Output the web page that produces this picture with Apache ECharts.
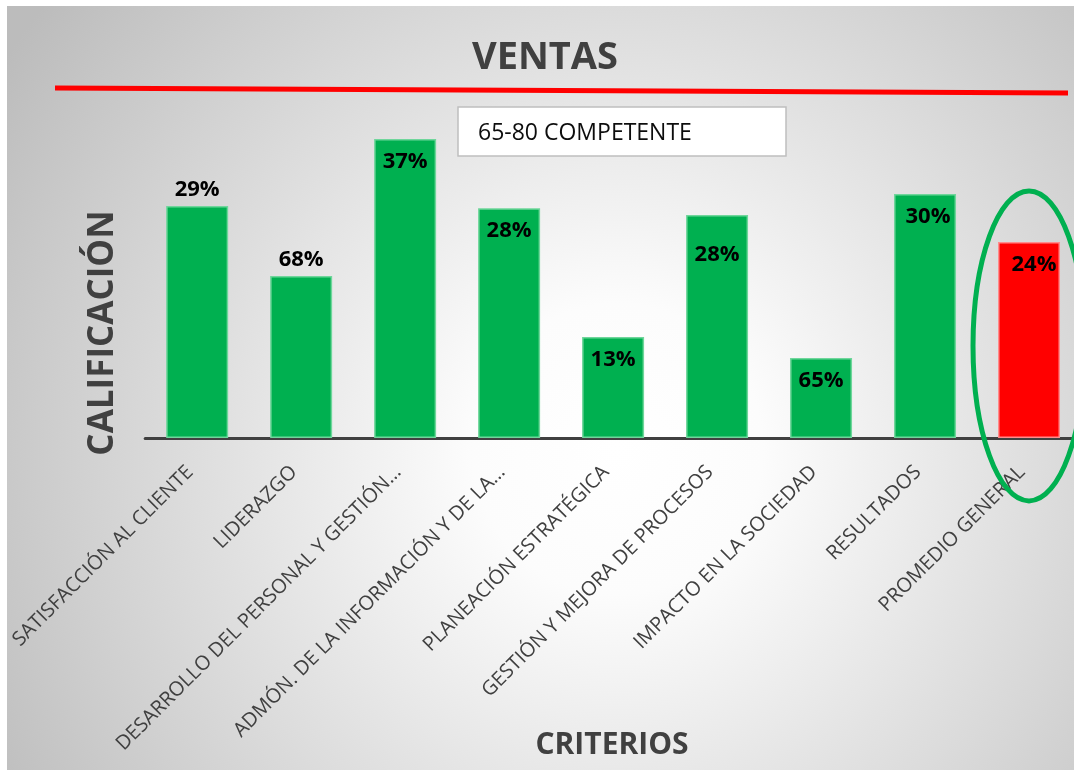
<!DOCTYPE html>
<html>
<head>
<meta charset="utf-8">
<title>Ventas</title>
<script src="https://cdn.jsdelivr.net/npm/echarts@6/dist/echarts.min.js"></script>
<style>
    html, body { margin: 0; padding: 0; background: #fff; }
    #frame { position: absolute; left: 7px; top: 6px; width: 1067px; height: 764px; overflow: hidden; }
    #chart { width: 1090px; height: 764px; }
</style>
</head>
<body>
<div id="frame"><div id="chart"></div></div>
<script>
const criterios = [
    'SATISFACCIÓN AL CLIENTE',
    'LIDERAZGO',
    'DESARROLLO DEL PERSONAL Y GESTIÓN…',
    'ADMÓN. DE LA INFORMACIÓN Y DE LA…',
    'PLANEACIÓN ESTRATÉGICA',
    'GESTIÓN Y MEJORA DE PROCESOS',
    'IMPACTO EN LA SOCIEDAD',
    'RESULTADOS',
    'PROMEDIO GENERAL'
];
// bar heights (hidden 0-100 scale)
const calificacion = [68.4, 47.8, 88.2, 67.8, 29.8, 65.8, 23.6, 72.0, 57.8];
// the data labels shown on the bars (they do not follow the bar heights)
const etiquetas = ['29%', '68%', '37%', '28%', '13%', '28%', '65%', '30%', '24%'];
const promedio = 'PROMEDIO GENERAL';

const FONT = "'Open Sans', 'Noto Sans', sans-serif";
const GREEN = '#00b050';
const DARK = '#404040';

const chart = echarts.init(document.getElementById('chart'));

const barData = calificacion.map((v, i) => {
    const isAvg = criterios[i] === promedio;
    // first two labels sit above the bar, the rest inside near the top
    const label = i < 2
        ? { position: 'top', distance: 5 }
        : { position: 'insideTop', distance: i === 5 ? 29 : 12, offset: isAvg ? [5, 0] : (i === 7 ? [3, 0] : [0, 0]) };
    return {
        value: v,
        itemStyle: isAvg
            ? { color: '#ff0000', borderColor: '#ff8c8c', borderWidth: 1.5 }
            : { color: GREEN, borderColor: '#6fd69b', borderWidth: 1.5 },
        label: label
    };
});

const staticGraphics = [
    {
        id: 'title', type: 'text',
        x: 538, y: 52,
        style: { text: 'VENTAS', font: 'bold 38px ' + FONT, fill: DARK, align: 'center', verticalAlign: 'middle' }
    },
    {
        id: 'redline', type: 'line',
        shape: { x1: 48, y1: 82, x2: 1061, y2: 87 },
        style: { stroke: '#ff0000', lineWidth: 5 }
    },
    {
        id: 'box', type: 'rect',
        shape: { x: 451, y: 101, width: 328, height: 49 },
        style: { fill: '#ffffff', stroke: '#bfbfbf', lineWidth: 1.5 }
    },
    {
        id: 'boxText', type: 'text',
        x: 471, y: 127,
        style: { text: '65-80 COMPETENTE', font: '23px ' + FONT, fill: '#0d0d0d', align: 'left', verticalAlign: 'middle' }
    },
    {
        id: 'yName', type: 'text',
        x: 96, y: 327,
        rotation: Math.PI / 2,
        style: { text: 'CALIFICACIÓN', font: 'bold 35px ' + FONT, fill: DARK, align: 'center', verticalAlign: 'middle' }
    },
    {
        id: 'xName', type: 'text',
        x: 605, y: 739,
        style: { text: 'CRITERIOS', font: 'bold 30px ' + FONT, fill: DARK, align: 'center', verticalAlign: 'middle' }
    }
];

chart.setOption({
    backgroundColor: new echarts.graphic.RadialGradient(0.56, 0.58, 0.95, [
        { offset: 0, color: '#ffffff' },
        { offset: 0.2, color: '#fcfcfc' },
        { offset: 1, color: '#bcbcbc' }
    ]),
    animation: false,
    grid: { left: 138, top: 93, width: 936, height: 339 },
    xAxis: {
        type: 'category',
        data: criterios,
        axisLine: { show: true, lineStyle: { color: DARK, width: 3 } },
        axisTick: { show: false },
        axisLabel: {
            interval: 0,
            rotate: 45,
            margin: 24,
            padding: [0, 10, 0, 0],
            fontFamily: FONT,
            fontSize: 20,
            color: DARK
        }
    },
    yAxis: {
        type: 'value',
        min: 0,
        max: 100,
        show: false,
        splitLine: { show: false }
    },
    series: [{
        type: 'bar',
        barWidth: 62,
        data: barData,
        label: {
            show: true,
            fontFamily: FONT,
            fontSize: 22,
            fontWeight: 'bold',
            color: '#000',
            formatter: p => etiquetas[p.dataIndex]
        }
    }],
    graphic: { elements: staticGraphics }
});

// green ellipse around the average bar, placed from the bar's own position
const avgIdx = criterios.indexOf(promedio);
const center = chart.convertToPixel({ xAxisIndex: 0, yAxisIndex: 0 }, [avgIdx, calificacion[avgIdx] * 0.47]);
chart.setOption({
    graphic: {
        elements: staticGraphics.concat([{
            id: 'ring', type: 'ellipse',
            shape: { cx: center[0], cy: center[1], rx: 56, ry: 155 },
            style: { fill: 'none', stroke: GREEN, lineWidth: 5 },
            z: 100
        }])
    }
});
</script>
</body>
</html>
